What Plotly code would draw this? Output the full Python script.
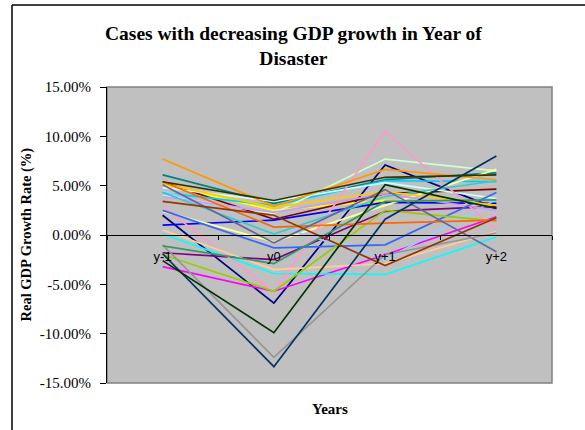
import plotly.graph_objects as go

# Category labels of the x axis
years = ["y-1", "y0", "y+1", "y+2"]

# Real GDP growth rate (%) of each case, one list per year
growth_y_minus1 = [2.0, -3.2, 5.1, 0.1, -1.8, 5.4, 6.1, 1.0, 4.3, 4.8, 4.0, 2.4, 4.5, 2.9, 3.9,
                   0.5, 2.5, 4.3, -2.0, 5.2, 7.7, 5.4, 5.1, -1.0, -1.9, -1.1, -2.6, 5.4, 3.4]
growth_y0 = [-6.9, -5.7, 2.5, -3.9, -2.5, 1.6, 3.2, 1.5, 3.0, 3.4, 2.2, -0.7, 1.0, -5.8, 2.3,
             -3.5, -1.3, 0.1, -5.7, 2.8, 2.9, 0.8, -0.8, -12.4, -13.35, -2.9, -9.9, 3.5, 2.0]
growth_y_plus1 = [7.1, -2.0, 3.5, -4.0, 2.4, 4.2, 5.6, 3.3, 5.5, 5.3, 7.7, 3.0, -2.5, 10.5, 4.2,
                  -2.9, -1.0, 3.9, 2.5, 4.4, 6.65, 1.2, 4.6, -2.0, 1.6, 3.4, 5.1, 5.85, -3.1]
growth_y_plus2 = [2.7, 1.85, 3.0, -0.2, 2.9, 4.65, 6.3, 3.2, 5.4, 3.7, 6.5, 6.65, 3.6, 0.5, 2.5,
                  0.35, 4.3, 5.5, 1.4, 3.0, 5.6, 1.5, -1.7, 0.2, 8.0, 3.55, 2.7, 6.1, 1.75]

# Line colour of each case
case_colors = ["#000080", "#FF00FF", "#FFFF00", "#00FFFF", "#800080", "#800000", "#008080",
               "#0000FF", "#00CCFF", "#CCFFFF", "#CCFFCC", "#FFFF99", "#99CCFF", "#FF99CC",
               "#CC99FF", "#FFCC99", "#3366FF", "#33CCCC", "#99CC00", "#FFCC00", "#FF9900",
               "#FF6600", "#666699", "#969696", "#003366", "#339966", "#003300", "#333300",
               "#993300"]

# Value axis ticks (fractions) and their labels, written with a plain hyphen
y_ticks = [-0.15, -0.10, -0.05, 0.0, 0.05, 0.10, 0.15]
y_tick_labels = [f"{v * 100:.2f}%" for v in y_ticks]

fig = go.Figure()
for i, color in enumerate(case_colors):
    values = [growth_y_minus1[i], growth_y0[i], growth_y_plus1[i], growth_y_plus2[i]]
    fig.add_trace(go.Scatter(
        x=years,
        y=[v / 100 for v in values],
        mode="lines",
        line=dict(color=color, width=1.7),
        name=f"Case {i + 1}",
        showlegend=False,
        hoverinfo="skip",
    ))

# Pixel geometry of the plot area inside the 585x430 canvas
W, H = 585, 430
L, R, T, B = 107, 552, 87, 383
pw, ph = R - L, B - T


def px(x):
    return (x - L) / pw


def py(y):
    return (B - y) / ph


serif = "Liberation Serif, Times New Roman, serif"
sans = "Liberation Sans, Arial, sans-serif"

fig.update_layout(
    width=W,
    height=H,
    margin=dict(l=L, r=W - R, t=T, b=H - B, pad=0),
    paper_bgcolor="white",
    plot_bgcolor="#C0C0C0",
    xaxis=dict(
        type="category",
        range=[-0.5, 3.5],
        anchor="free",
        position=0.5,
        showline=True,
        linecolor="black",
        linewidth=1,
        ticks="outside",
        ticklen=4,
        tickcolor="black",
        tickson="boundaries",
        showgrid=False,
        zeroline=False,
        tickfont=dict(family=sans, size=13, color="black"),
        ticklabelstandoff=9,
    ),
    yaxis=dict(
        range=[-0.15, 0.15],
        tickvals=y_ticks,
        ticktext=y_tick_labels,
        showline=True,
        linecolor="black",
        linewidth=1,
        ticks="outside",
        ticklen=6,
        tickcolor="black",
        showgrid=False,
        zeroline=False,
        tickfont=dict(family=serif, size=15, color="black"),
        ticklabelstandoff=6,
    ),
    shapes=[
        # plot area border
        dict(type="rect", xref="paper", yref="paper", x0=0, y0=0, x1=1, y1=1,
             line=dict(color="#808080", width=1.5), fillcolor="rgba(0,0,0,0)", layer="below"),
        # chart frame (left and top edges)
        dict(type="line", xref="paper", yref="paper", x0=px(12), y0=py(440), x1=px(12), y1=py(5),
             line=dict(color="black", width=1.5)),
        dict(type="line", xref="paper", yref="paper", x0=px(12), y0=py(5), x1=px(600), y1=py(5),
             line=dict(color="black", width=1.5)),
    ],
    annotations=[
        dict(text="<b>Cases with decreasing GDP growth in Year of<br>Disaster</b>",
             xref="paper", yref="paper", x=px(293), y=py(46.5),
             xanchor="center", yanchor="middle", showarrow=False,
             font=dict(family=serif, size=19.5, color="black")),
        dict(text="<b>Real GDP Growth Rate (%)</b>",
             xref="paper", yref="paper", x=px(25.5), y=py(235),
             xanchor="center", yanchor="middle", showarrow=False, textangle=-90,
             font=dict(family=serif, size=14.5, color="black")),
        dict(text="<b>Years</b>",
             xref="paper", yref="paper", x=px(329.5), y=py(409),
             xanchor="center", yanchor="middle", showarrow=False,
             font=dict(family=serif, size=15, color="black")),
    ],
)

fig.write_html("out.html")
